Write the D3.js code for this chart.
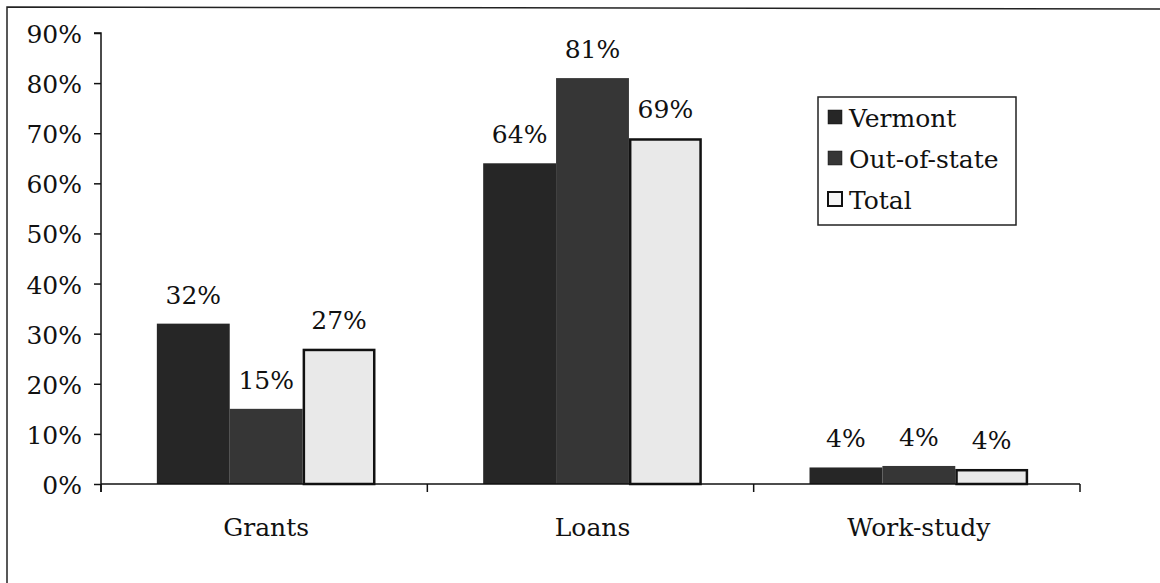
<!DOCTYPE html>
<html>
<head>
<meta charset="utf-8">
<script src="https://cdn.jsdelivr.net/npm/d3@7/dist/d3.min.js"></script>
<style>
  html, body { margin: 0; padding: 0; background: #fff; }
  svg { display: block; }
  text { font-family: "DejaVu Serif", serif; fill: #111; }
</style>
</head>
<body>
<svg id="chart" width="1160" height="583"></svg>
<script>
const categories = ["Grants", "Loans", "Work-study"];
const seriesNames = ["Vermont", "Out-of-state", "Total"];
const vermont = [32, 64, 3.3];
const outOfState = [15, 81, 3.6];
const total = [27, 69, 3.0];
const vermontLabels = ["32%", "64%", "4%"];
const outOfStateLabels = ["15%", "81%", "4%"];
const totalLabels = ["27%", "69%", "4%"];
const yTicks = [0, 10, 20, 30, 40, 50, 60, 70, 80, 90];

const seriesValues = [vermont, outOfState, total];
const seriesLabels = [vermontLabels, outOfStateLabels, totalLabels];
const fills = ["#262626", "#363636", "#e9e9e9"];
const strokes = ["none", "none", "#111"];

const svg = d3.select("#chart");
const plotLeft = 101, plotRight = 1080, plotTop = 33, plotBottom = 484;

// outer frame (top and left edges)
svg.append("path").attr("d", "M7,583 L7,7 L1160,9")
  .attr("fill", "none").attr("stroke", "#222").attr("stroke-width", 1.5);

const y = d3.scaleLinear().domain([0, 90]).range([plotBottom, plotTop]);
const x = d3.scaleBand().domain(categories).range([plotLeft, plotRight])
  .paddingInner(0.33).paddingOuter(0.165);
const xs = d3.scaleBand().domain(seriesNames).range([0, x.bandwidth()]).padding(0);

// bars
const groups = svg.append("g").selectAll("g").data(categories).join("g")
  .attr("transform", c => `translate(${x(c) + 2},0)`);

groups.each(function(c, ci) {
  const g = d3.select(this);
  seriesNames.forEach((s, si) => {
    const v = seriesValues[si][ci];
    const sw = si === 2 ? 2.5 : 0;
    g.append("rect")
      .attr("x", xs(s) + sw / 2)
      .attr("y", y(v) + sw / 2)
      .attr("width", xs.bandwidth() - sw)
      .attr("height", y(0) - y(v) - sw / 2)
      .attr("fill", fills[si])
      .attr("stroke", strokes[si])
      .attr("stroke-width", sw);
    g.append("text")
      .attr("x", xs(s) + xs.bandwidth() / 2)
      .attr("y", y(v) - 20)
      .attr("text-anchor", "middle")
      .attr("font-size", 25)
      .text(seriesLabels[si][ci]);
  });
});

// y axis
const yAxis = d3.axisLeft(y).tickValues(yTicks).tickFormat(d => d + "%")
  .tickSize(7).tickPadding(12);
const gy = svg.append("g").attr("transform", `translate(${plotLeft},0)`).call(yAxis);
gy.select(".domain").attr("d", `M-7,${plotTop}H0V${plotBottom + 8}`).attr("stroke", "#111").attr("stroke-width", 1.5);
gy.selectAll(".tick line").attr("stroke", "#111").attr("stroke-width", 1.5);
gy.selectAll(".tick text").attr("font-size", 25).attr("font-family", "DejaVu Serif, serif")
  .attr("fill", "#111").attr("dy", "0.38em");

// x axis
const gx = svg.append("g").attr("transform", `translate(0,${plotBottom})`);
gx.append("line").attr("x1", plotLeft).attr("x2", plotRight).attr("y1", 0).attr("y2", 0)
  .attr("stroke", "#111").attr("stroke-width", 1.5);
const boundaries = categories.map(c => x(c) - x.step() * x.paddingInner() / 2).concat([plotRight]);
gx.selectAll("line.tk").data(boundaries).join("line").attr("class", "tk")
  .attr("x1", d => d).attr("x2", d => d).attr("y1", 0).attr("y2", 8)
  .attr("stroke", "#111").attr("stroke-width", 1.5);
gx.selectAll("text").data(categories).join("text")
  .attr("x", c => x(c) + x.bandwidth() / 2 + 2)
  .attr("y", 52)
  .attr("text-anchor", "middle")
  .attr("font-size", 25)
  .text(c => c);

// legend
const lg = svg.append("g").attr("transform", "translate(818,97)");
lg.append("rect").attr("width", 198).attr("height", 128)
  .attr("fill", "#fff").attr("stroke", "#222").attr("stroke-width", 1.5);
seriesNames.forEach((s, i) => {
  const yy = 30 + i * 41;
  lg.append("rect").attr("x", 10).attr("y", yy - 17).attr("width", 14).attr("height", 14)
    .attr("fill", i === 2 ? "#f4f4f4" : fills[i])
    .attr("stroke", "#111").attr("stroke-width", i === 2 ? 2 : 0.5);
  lg.append("text").attr("x", 31).attr("y", yy).attr("font-size", 25).text(s);
});
</script>
</body>
</html>
